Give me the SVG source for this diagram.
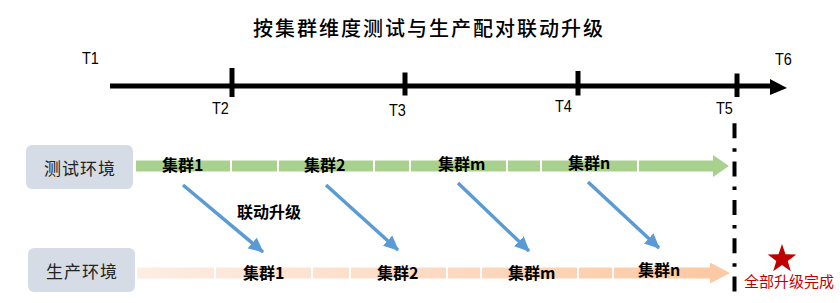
<svg xmlns="http://www.w3.org/2000/svg" width="840" height="303" viewBox="0 0 840 303">
<style>
.t{font-family:"Liberation Sans Narrow","Liberation Sans",Arial,sans-serif;font-size:17px;fill:#000}
.cjk{font-family:"Noto Sans CJK SC","Noto Sans CJK JP",sans-serif}
.lbl{font-family:"Noto Sans CJK SC",sans-serif;font-size:16px;font-weight:bold;fill:#000}
.env{font-family:"Noto Sans CJK SC",sans-serif;font-size:17px;fill:#222;letter-spacing:1px}
.envbox{fill:#d6dce5}
.tick{stroke:#000;stroke-width:5}
.blue{stroke:#5b9bd5;stroke-width:3.5;fill:none}
</style>
<defs>
<marker id="bh" markerUnits="userSpaceOnUse" markerWidth="16" markerHeight="14" refX="14" refY="7" orient="auto">
<path d="M0,0 L15,7 L0,14 Z" fill="#5b9bd5"/>
</marker>
<linearGradient id="og" x1="0" y1="0" x2="1" y2="0">
<stop offset="0" stop-color="#fdede3"/>
<stop offset="1" stop-color="#fbc9a3"/>
</linearGradient>
</defs>
<rect width="840" height="303" fill="#fff"/>
<text x="429" y="36" text-anchor="middle" class="cjk" font-size="20" font-weight="500" letter-spacing="2" fill="#000">按集群维度测试与生产配对联动升级</text>
<g id="axis">
<line x1="110" y1="86" x2="773" y2="86" stroke="#000" stroke-width="5"/>
<path d="M770,79 L787,88 L770,95 Z" fill="#000"/>
<line class="tick" x1="232" y1="68" x2="232" y2="97"/>
<line class="tick" x1="405" y1="72.5" x2="405" y2="95.5"/>
<line class="tick" x1="578" y1="71" x2="578" y2="95.5"/>
<line class="tick" x1="737" y1="73.5" x2="737" y2="97"/>
<text class="t" transform="translate(82,64) scale(0.85,1)">T1</text>
<text class="t" transform="translate(212,114) scale(0.85,1)">T2</text>
<text class="t" transform="translate(389,116) scale(0.85,1)">T3</text>
<text class="t" transform="translate(555,112) scale(0.85,1)">T4</text>
<text class="t" transform="translate(716,114) scale(0.85,1)">T5</text>
<text class="t" transform="translate(775,65) scale(0.85,1)">T6</text>
</g>
<g id="env-test">
<rect class="envbox" x="26" y="145" width="107" height="44" rx="6"/>
<text class="env" x="80" y="175" text-anchor="middle">测试环境</text>
</g>
<g id="env-prod">
<rect class="envbox" x="28" y="248" width="107" height="44" rx="6"/>
<text class="env" x="82" y="278" text-anchor="middle">生产环境</text>
</g>
<g id="test-bar">
<rect x="136" y="160.5" width="578" height="11" fill="#a9d18e"/>
<path d="M713,155 L729,166 L713,177 Z" fill="#a9d18e"/>
<g stroke="#fff" stroke-width="2">
<line x1="231" y1="160" x2="231" y2="172"/>
<line x1="278" y1="160" x2="278" y2="172"/>
<line x1="374" y1="160" x2="374" y2="172"/>
<line x1="410" y1="160" x2="410" y2="172"/>
<line x1="507" y1="160" x2="507" y2="172"/>
<line x1="541" y1="160" x2="541" y2="172"/>
<line x1="638" y1="160" x2="638" y2="172"/>
</g>
<text class="lbl" x="162" y="171">集群1</text>
<text class="lbl" x="304" y="171">集群2</text>
<text class="lbl" x="438" y="170">集群m</text>
<text class="lbl" x="568" y="169">集群n</text>
</g>
<g id="prod-bar">
<rect x="137" y="267.5" width="575" height="11" fill="url(#og)"/>
<path d="M710,262.5 L730,273 L710,283.5 Z" fill="#fbc9a3"/>
<g stroke="#fff" stroke-width="2">
<line x1="215" y1="267" x2="215" y2="279"/>
<line x1="312" y1="267" x2="312" y2="279"/>
<line x1="350" y1="267" x2="350" y2="279"/>
<line x1="447" y1="267" x2="447" y2="279"/>
<line x1="481" y1="267" x2="481" y2="279"/>
<line x1="578" y1="267" x2="578" y2="279"/>
<line x1="613" y1="267" x2="613" y2="279"/>
</g>
<text class="lbl" x="243" y="279">集群1</text>
<text class="lbl" x="377" y="279">集群2</text>
<text class="lbl" x="508" y="279">集群m</text>
<text class="lbl" x="638" y="276">集群n</text>
</g>
<g id="connectors">
<line class="blue" x1="183" y1="185" x2="263" y2="252" marker-end="url(#bh)"/>
<line class="blue" x1="326" y1="185" x2="398" y2="250" marker-end="url(#bh)"/>
<line class="blue" x1="458" y1="183" x2="529" y2="251" marker-end="url(#bh)"/>
<line class="blue" x1="588" y1="182" x2="659" y2="248" marker-end="url(#bh)"/>
<text class="lbl" x="237" y="218" font-size="17">联动升级</text>
</g>
<g id="finish-line">
<line x1="734.5" y1="123.3" x2="734.5" y2="300" stroke="#000" stroke-width="4" stroke-dasharray="15 10 3.5 9.8"/>
</g>
<g id="done">
<polygon points="782,244 785.5,254.2 796.3,254.4 787.7,260.9 790.8,271.3 782,265.1 773.2,271.3 776.3,260.9 767.7,254.4 778.5,254.2" fill="#c00000"/>
<text x="789" y="287" text-anchor="middle" class="cjk" font-size="15" fill="#c00000">全部升级完成</text>
</g>
</svg>
